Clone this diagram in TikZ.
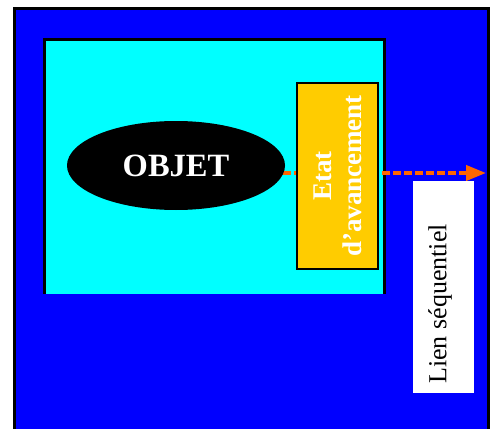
\documentclass[tikz,border=0pt]{standalone}
\usepackage{fontspec}
\setmainfont{Liberation Serif}
\usepackage{tikz}
\usetikzlibrary{arrows.meta, shapes.geometric}
\definecolor{fondbleu}{HTML}{0000FF}
\definecolor{fondcyan}{HTML}{00FFFF}
\definecolor{jaune}{HTML}{FFCC00}
\definecolor{orangelien}{HTML}{FF6600}

\begin{document}
\begin{tikzpicture}[x=1pt, y=-1pt,
    zone/.style={fill=#1, inner sep=0pt, outer sep=0pt, anchor=north west},
    bord/.style={draw=black, line width=3pt},
    lien/.style={-{Triangle[length=20pt, width=15pt]}, draw=orangelien,
                 line width=4pt, dash pattern=on 8pt off 3pt},
]
    \useasboundingbox (0,0) rectangle (492,428);
    \clip (0,0) rectangle (492,428);

    \node[zone=fondbleu, minimum width=474pt, minimum height=440pt] (fond)  at (14.5, 8.5) {};
    \draw[bord] (fond.south west) -- (fond.north west) -- (fond.north east) -- (fond.south east);

    \node[zone=fondcyan, minimum width=340pt, minimum height=254.5pt] (cadre) at (44.5, 39.5) {};
    \draw[bord] (cadre.south west) -- (cadre.north west) -- (cadre.north east) -- (cadre.south east);

    \coordinate (depart) at (283, 173);
    \coordinate (fin)    at (486, 173);
    \draw[lien] (depart) -- (fin);

    \node[ellipse, fill=black, minimum width=218pt, minimum height=89pt, inner sep=0pt,
          text=white, font=\fontsize{32.5}{38}\selectfont\bfseries] (objet) at (176, 165.5) {OBJET};

    \node[zone=jaune, draw=black, line width=2.5pt, minimum width=81pt, minimum height=186pt] (etat) at (297, 83) {};
    \node[rotate=90, text=white, align=center, font=\fontsize{27}{30}\selectfont\bfseries]
        (etattxt) at (etat.center) {Etat\\d’avancement};

    \node[zone=white, minimum width=61pt, minimum height=212pt] (cartouche) at (413, 181) {};
    \node[rotate=90, font=\fontsize{26}{31}\selectfont] (lientxt) at (440, 304) {Lien séquentiel};
\end{tikzpicture}
\end{document}
